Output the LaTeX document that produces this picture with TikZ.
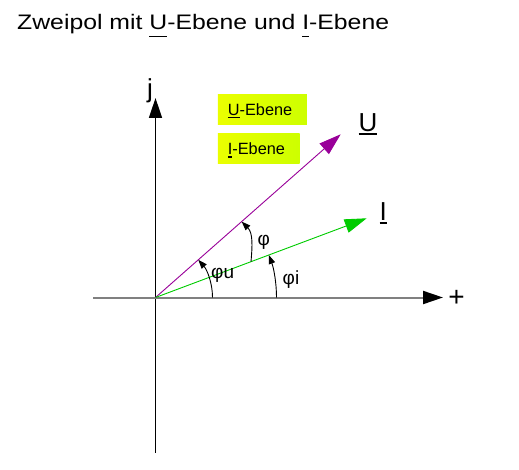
\documentclass[tikz,border=0pt]{standalone}
\usepackage{fontspec}
\setmainfont{Liberation Sans}
\newfontfamily\titlefont[FakeStretch=1.18]{Liberation Sans}
\usetikzlibrary{arrows.meta,calc}
\definecolor{upurple}{RGB}{153,0,153}
\definecolor{igreen}{RGB}{0,204,0}
\definecolor{boxyl}{RGB}{235,255,0}
\definecolor{boxgr}{RGB}{205,255,0}
\definecolor{axgray}{RGB}{128,128,128}
\newcommand\ulbar[3]{\setbox0\hbox{#3}\rlap{\rule[#1]{\wd0}{#2}}\box0}
\begin{document}
\begin{tikzpicture}[x=1pt,y=1pt,
  bigtip/.style={-{Triangle[length=20pt,width=13pt,color=black]}},
  vectip/.style={-{Triangle[length=22pt,width=14pt]}},
  anglearc/.style={draw=black, line width=0.9pt, -{Triangle[length=9pt,width=6.5pt]}},
  ebox/.style={anchor=west, inner xsep=10pt, inner ysep=0pt, minimum height=30pt,
    text height=12pt, text depth=0pt, align=left,
    font=\fontsize{16.3}{18}\selectfont, left color=boxyl, right color=boxgr},
  biglabel/.style={font=\fontsize{26}{30}\selectfont, inner sep=0pt},
  anglabel/.style={font=\fontsize{19}{22}\selectfont, inner sep=0pt, anchor=base west}]
\useasboundingbox (0,0) rectangle (519,469);
\fill[white] (0,0) rectangle (519,469);

\node[anchor=base west, inner sep=0pt, font=\titlefont\fontsize{21}{25}\selectfont] (title) at (17,439)
  {Zweipol mit \ulbar{-7.5pt}{1.6pt}{U}-Ebene und \ulbar{-7.5pt}{1.6pt}{I}-Ebene};

\coordinate (O) at (155.5,171.5);
\coordinate (xl) at (93,171.5);
\coordinate (xr) at (443,171.5);
\coordinate (yb) at (155.5,16.5);
\coordinate (yt) at (155.5,371);
\coordinate (Utip) at (340.7,334.7);
\coordinate (Itip) at (366.7,250.7);

\draw[black, line width=1.5pt, bigtip] (yb) -- (yt);
\draw[axgray, line width=2pt, bigtip] (xl) -- (xr);
\draw[upurple, line width=0.9pt, vectip] (O) -- (Utip);
\draw[igreen, line width=0.9pt, vectip] (O) -- (Itip);

\draw[anglearc] ($(O)+(57,0)$) arc[start angle=0, end angle=41.4, radius=57];
\draw[anglearc] ($(O)+(121,0)$) arc[start angle=0, end angle=20.6, radius=121];
\draw[anglearc] ($(O)+(20.56:102)$) to[out=85, in=-45] ($(O)+(41.38:114.8)$);

\node[anglabel] (phiu) at (211,190) {φu};
\node[anglabel] (phi) at (257.5,223) {φ};
\node[anglabel] (phii) at (282.5,185) {φi};

\node[biglabel, anchor=base west] (Ulab) at (358.3,337.3) {\ulbar{-3.5pt}{2pt}{U}};
\node[biglabel, anchor=base west] (Ilab) at (379.3,248) {\ulbar{-3.5pt}{2pt}{I}};
\node[biglabel, anchor=base] (jlab) at (150,371.5) {j};
\node[biglabel, anchor=base, font=\fontsize{28}{30}\selectfont] (plus) at (456.5,163) {+};

\node[ebox, text width=69pt] (ubox) at (217.7,359.3) {\ulbar{-2.8pt}{1.4pt}{U}-Ebene};
\node[ebox, text width=61.6pt] (ibox) at (217.7,320) {\ulbar{-2.8pt}{1.4pt}{I}-Ebene};
\end{tikzpicture}
\end{document}
